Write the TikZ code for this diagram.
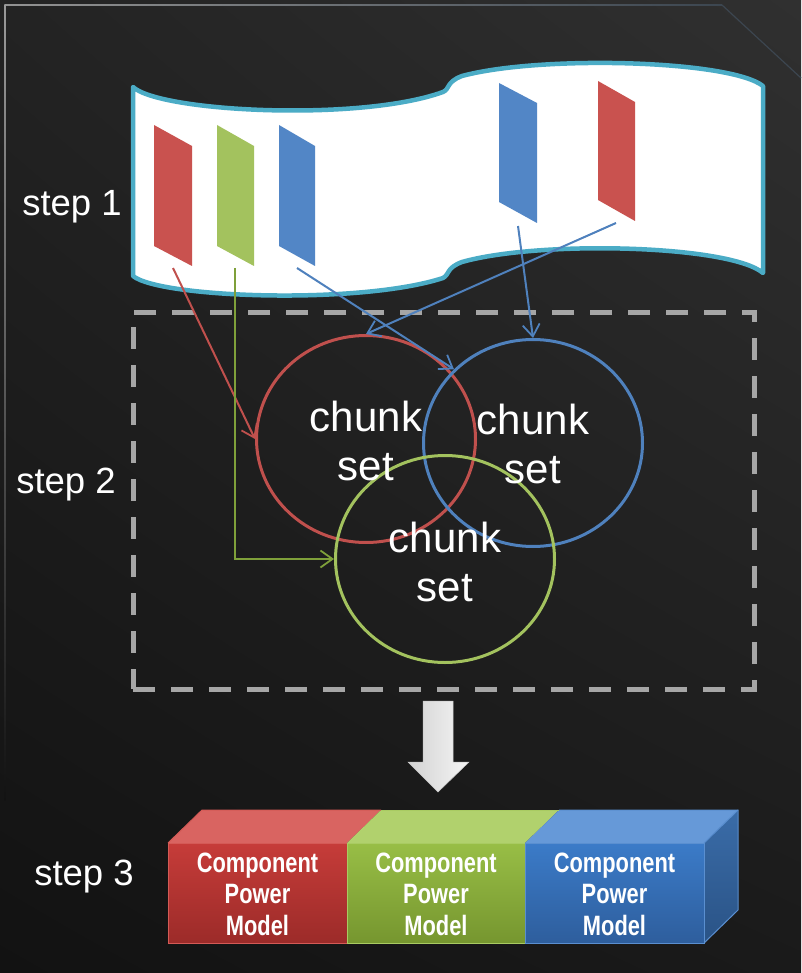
\documentclass[tikz,border=0pt]{standalone}
\usepackage{fontspec}
\setmainfont{Liberation Sans}
\newfontfamily\condfont[FakeStretch=0.78]{Liberation Sans}
\usetikzlibrary{arrows.meta,shapes.geometric,shadings}
\definecolor{bgA}{HTML}{232323}
\definecolor{bgB}{HTML}{303030}
\definecolor{bgC}{HTML}{121212}
\definecolor{bgD}{HTML}{1A1A1A}
\definecolor{teal}{HTML}{4BACC6}
\definecolor{cred}{HTML}{C9524F}
\definecolor{cgreen}{HTML}{A3C25E}
\definecolor{cblue}{HTML}{5286C6}
\definecolor{lred}{HTML}{C0504D}
\definecolor{lgreen}{HTML}{7FA03A}
\definecolor{lblue}{HTML}{4F81BD}
\definecolor{dashcol}{HTML}{A6A6A6}
\definecolor{rF1}{HTML}{C63C39}
\definecolor{rF2}{HTML}{9C2B29}
\definecolor{rT}{HTML}{D96461}
\definecolor{rE}{HTML}{D45A56}
\definecolor{gF1}{HTML}{98BE46}
\definecolor{gF2}{HTML}{76962F}
\definecolor{gT}{HTML}{B1D16D}
\definecolor{gE}{HTML}{A9CB62}
\definecolor{bF1}{HTML}{3B7BC8}
\definecolor{bF2}{HTML}{2E5E9D}
\definecolor{bT}{HTML}{6699D8}
\definecolor{bS1}{HTML}{3A6CA8}
\definecolor{bS2}{HTML}{2A5386}
\definecolor{bE}{HTML}{5A8FD0}
\begin{document}
\begin{tikzpicture}[x=1pt,y=-1pt,
  steplabel/.style={text=white,font=\fontsize{36.5}{40}\selectfont,inner sep=0pt},
  chunk/.style={ellipse,line width=3pt,minimum width=219pt,minimum height=207pt,inner sep=0pt,
     text=white,align=center,font=\fontsize{42}{49}\selectfont},
  conn/.style={line width=2pt,-{Straight Barb[length=12pt,width=17pt,line width=1.8pt]}},
  cpm/.style={text=white,align=center,font=\condfont\bfseries\fontsize{28}{31.5}\selectfont,inner sep=0pt},
  frontedge/.style={line width=1pt}]
\useasboundingbox (0,0) rectangle (801,973);
% background
\shade[upper left=bgA,upper right=bgB,lower left=bgC,lower right=bgD] (0,0) rectangle (801,973);
% frame lines
\shade[left color=gray!85,right color={rgb,255:red,60;green,70;blue,80}] (5,4.3) rectangle (722,5.7);
\shade[top color=gray!80,bottom color=bgC] (4.3,5) rectangle (5.7,800);
\draw[color={rgb,255:red,60;green,70;blue,80},line width=1.2pt] (722,5) -- (801,78);
% step 1 banner
\draw[teal,fill=white,line width=4.5pt,line join=round]
 (133,87) .. controls (160,112) and (360,122) .. (443,92)
 .. controls (450,89) and (446,82) .. (462,76)
 .. controls (540,55) and (730,60) .. (763,86)
 -- (763,273)
 .. controls (730,245) and (540,240) .. (462,262)
 .. controls (446,268) and (450,274) .. (443,278)
 .. controls (360,305) and (160,298) .. (133,276) -- cycle;
% chunks in the trace
\fill[cred] (154,125) -- (192,146) -- (192,266) -- (154,246) -- cycle;
\fill[cgreen] (217,125) -- (254,146) -- (254,266) -- (217,246) -- cycle;
\fill[cblue] (279,125) -- (315,146) -- (315,266) -- (279,246) -- cycle;
\fill[cblue] (499,83) -- (537,103) -- (537,223) -- (499,202) -- cycle;
\fill[cred] (598,81) -- (635,102) -- (635,221) -- (598,200) -- cycle;
\coordinate (r1) at (173,268);
\coordinate (g1) at (235,268);
\coordinate (b1) at (297,268);
\coordinate (b2) at (518,226);
\coordinate (r2) at (616,223);
% labels
\node[steplabel] (s1) at (72,207) {step 1};
\node[steplabel] (s2) at (66,485) {step 2};
\node[steplabel] (s3) at (84,877) {step 3};
% dashed box
\node[draw=dashcol,line width=5pt,dash pattern=on 22pt off 16pt,minimum width=621pt,minimum height=377pt,inner sep=0pt] (box2) at (443.5,500.5) {};
% chunk sets
\node[chunk,draw=lred] (redc) at (366,439) {};
\node[chunk,draw=lblue] (bluec) at (533,443) {};
\node[chunk,draw=cgreen] (greenc) at (445,559) {};
\node[text=white,align=center,font=\fontsize{42}{49}\selectfont] at (366,441) {chunk\\set};
\node[text=white,align=center,font=\fontsize{42}{49}\selectfont] at (533,444) {chunk\\set};
\node[text=white,align=center,font=\fontsize{42}{49}\selectfont] at (445,562) {chunk\\set};
% connectors
\draw[conn,lred] (r1) -- (redc.west);
\draw[conn,lgreen] (g1) |- (greenc.west);
\draw[conn,lblue] (b1) -- (bluec.137);
\draw[conn,lblue] (b2) -- (bluec.north);
\draw[conn,lblue] (r2) -- (redc.north);
% big arrow
\shade[left color=gray!35,right color=gray!8,draw=gray!45,line width=0.5pt]
 (423,701) -- (453,701) -- (453,762) -- (469,762) -- (438,792) -- (408,762) -- (423,762) -- cycle;
% step 3 blocks
\fill[rT] (168,843) -- (202,810) -- (381,810) -- (347,843) -- cycle;
\fill[gT] (347,843) -- (381,810) -- (559,810) -- (525,843) -- cycle;
\fill[bT] (525,843) -- (559,810) -- (738,810) -- (704,843) -- cycle;
\shade[top color=bS1,bottom color=bS2] (704,843) -- (738,810) -- (738,910) -- (704,943) -- cycle;
\draw[rE,frontedge] (168,843) -- (202,810) -- (381,810);
\draw[gE,frontedge] (381,810) -- (559,810);
\draw[bE,frontedge] (559,810) -- (738,810) -- (738,910) -- (704,943);
\draw[bE,frontedge] (704,843) -- (738,810);
\shade[top color=rF1,bottom color=rF2,draw=rE,line width=1pt] (168,843) rectangle (347,943);
\shade[top color=gF1,bottom color=gF2,draw=gE,line width=1pt] (347,843) rectangle (525,943);
\shade[top color=bF1,bottom color=bF2,draw=bE,line width=1pt] (525,843) rectangle (704,943);
\node[cpm] (m1) at (257.5,894) {Component\\Power\\Model};
\node[cpm] (m2) at (436,894) {Component\\Power\\Model};
\node[cpm] (m3) at (614.5,894) {Component\\Power\\Model};
\end{tikzpicture}
\end{document}
